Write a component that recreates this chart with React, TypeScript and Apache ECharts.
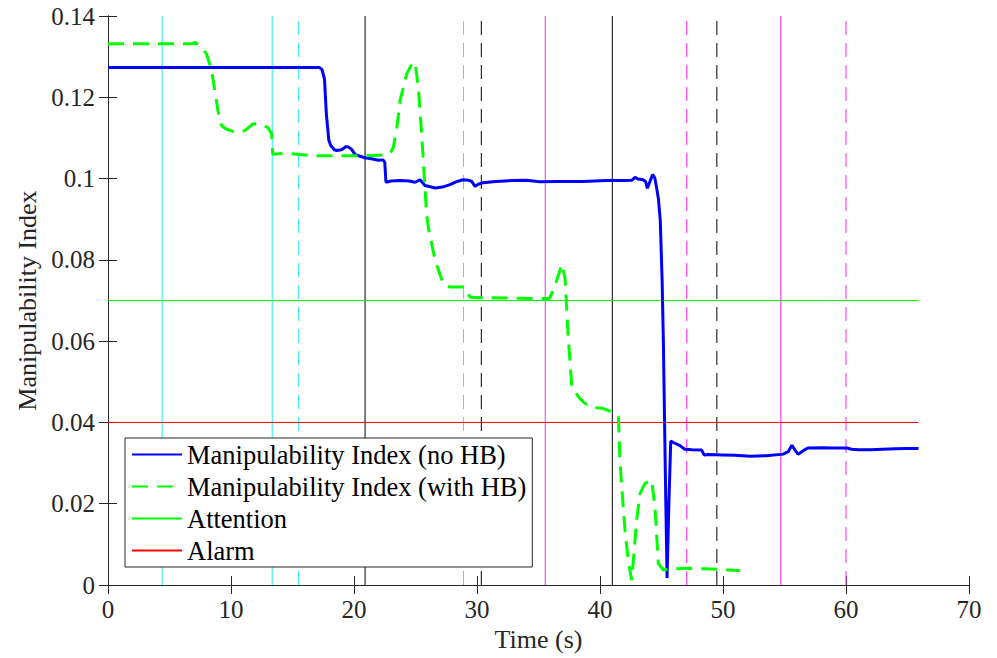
import React, { useEffect, useRef } from "react";
import * as echarts from "echarts";

// ---- Data ----
const noHbT = [0, 17.2, 17.4, 17.6, 17.75, 17.95, 18.1, 18.4, 18.6, 19.0, 19.3, 19.5, 19.8, 20.1, 20.5, 20.9, 21.5, 22.0, 22.36, 22.5, 22.6, 23.0, 23.74, 24.5, 24.96, 25.37, 25.77, 26.2, 26.6, 27.2, 27.8, 28.3, 28.86, 29.3, 29.57, 29.84, 30.1, 30.5, 31.5, 32.93, 34.0, 35.1, 36.5, 38.6, 40.5, 42.0, 42.6, 42.85, 43.1, 43.5, 43.7, 43.85, 44.0, 44.28, 44.45, 44.6, 44.75, 44.9, 45.05, 45.15, 45.3, 45.45, 45.6, 45.75, 46.0, 46.5, 46.9, 47.5, 48.27, 48.46, 48.8, 50.0, 51.0, 52.2, 53.5, 54.9, 55.3, 55.6, 55.85, 56.1, 56.5, 56.9, 58.0, 59.0, 60.06, 60.46, 61.0, 62.0, 63.0, 64.0, 65.0, 65.9];
const noHbV = [0.1273, 0.1273, 0.1268, 0.1245, 0.116, 0.1095, 0.1082, 0.1071, 0.1069, 0.1071, 0.1078, 0.1078, 0.1072, 0.1059, 0.1055, 0.1051, 0.1048, 0.1045, 0.1046, 0.1040, 0.0991, 0.0994, 0.0995, 0.0994, 0.0991, 0.0997, 0.0983, 0.0980, 0.0977, 0.0979, 0.0985, 0.0992, 0.0997, 0.0996, 0.0993, 0.0981, 0.0986, 0.0990, 0.0993, 0.0995, 0.0996, 0.0992, 0.0993, 0.0993, 0.0995, 0.0995, 0.0996, 0.1003, 0.0999, 0.0997, 0.0993, 0.0976, 0.0988, 0.1010, 0.1002, 0.0978, 0.0950, 0.0897, 0.0750, 0.0602, 0.0300, 0.0017, 0.0200, 0.0354, 0.0350, 0.0343, 0.0334, 0.0333, 0.0332, 0.0320, 0.0321, 0.0320, 0.0319, 0.0317, 0.0318, 0.0322, 0.0328, 0.0344, 0.0332, 0.0322, 0.0330, 0.0337, 0.0338, 0.0337, 0.0337, 0.0334, 0.0333, 0.0333, 0.0334, 0.0335, 0.0336, 0.0336];

const withHbT = [0, 6.9, 7.07, 7.5, 8.02, 8.43, 8.94, 9.24, 9.6, 10.16, 11.14, 11.8, 12.6, 13.0, 13.3, 13.39, 14.53, 16.7, 19.0, 21.03, 22.5, 22.93, 23.2, 23.5, 23.74, 24.28, 24.7, 24.96, 25.23, 25.5, 25.77, 25.9, 26.04, 26.6, 27.26, 27.8, 29.02, 29.43, 30.5, 32.5, 34.6, 35.9, 36.3, 36.9, 37.15, 37.4, 37.7, 38.2, 38.64, 39.2, 40.27, 40.95, 41.5, 41.63, 42.03, 42.3, 42.58, 42.98, 43.25, 43.66, 44.2, 44.47, 44.74, 45.15, 46.0, 47.3, 48.5, 49.5, 50.5, 51.4];
const withHbV = [0.1332, 0.1332, 0.1335, 0.1327, 0.1306, 0.1265, 0.1167, 0.1130, 0.1122, 0.1116, 0.1118, 0.1135, 0.1132, 0.1125, 0.1111, 0.1060, 0.1062, 0.1056, 0.1056, 0.1056, 0.1058, 0.1061, 0.1077, 0.1130, 0.1191, 0.1257, 0.1282, 0.1286, 0.1224, 0.1110, 0.0978, 0.0913, 0.0880, 0.0798, 0.0741, 0.0733, 0.0733, 0.0708, 0.0707, 0.0706, 0.0705, 0.0705, 0.0733, 0.0789, 0.0757, 0.0619, 0.0491, 0.0465, 0.0450, 0.0438, 0.0434, 0.0426, 0.0414, 0.0300, 0.0135, 0.0060, 0.0012, 0.0160, 0.0225, 0.0250, 0.0258, 0.0192, 0.0053, 0.0037, 0.0040, 0.0041, 0.0040, 0.0039, 0.0037, 0.0035];

const attentionLevel = 0.07;
const alarmLevel = 0.04;
const thresholdStart = 0;
const thresholdEnd = 65.9;

const cyanSolidT = [4.4, 13.35];
const cyanDashedT = [15.5, 28.9];
const blackSolidT = [20.9, 41.0];
const blackDashedT = [30.35, 49.5];
const magentaSolidT = [35.55, 54.7];
const magentaDashedT = [47.05, 60.0];

const xTicks = [0, 10, 20, 30, 40, 50, 60, 70];
const yTicks = [0, 0.02, 0.04, 0.06, 0.08, 0.1, 0.12, 0.14];

const seriesNames = [
  "Manipulability Index (no HB)",
  "Manipulability Index (with HB)",
  "Attention",
  "Alarm",
];

const FONT = "Liberation Serif";
const TEXT = "#262626";

export default function App() {
  const ref = useRef<HTMLDivElement>(null);

  useEffect(() => {
    document.body.style.margin = "0";
    if (!ref.current) return;
    const chart = echarts.init(ref.current, undefined, { renderer: "svg" });

    const vline = (t: number, color: string, dashed: boolean) => ({
      type: "line",
      data: [
        [t, yTicks[0]],
        [t, yTicks[yTicks.length - 1]],
      ],
      symbol: "none",
      silent: true,
      z: 1,
      lineStyle: { color, width: 1, type: dashed ? [14, 8] : "solid" },
    });

    const vlines: any[] = [
      ...cyanSolidT.map((t) => vline(t, "#22eeff", false)),
      ...cyanDashedT.map((t) => vline(t, "#22eeff", true)),
      ...blackSolidT.map((t) => vline(t, "#000000", false)),
      ...blackDashedT.map((t) => vline(t, "#000000", true)),
      ...magentaSolidT.map((t) => vline(t, "#ff22ff", false)),
      ...magentaDashedT.map((t) => vline(t, "#ff22ff", true)),
    ];

    const axisCommon = {
      axisLine: { show: true, lineStyle: { color: TEXT, width: 1 } },
      axisTick: { show: true, inside: true, length: 9, lineStyle: { color: TEXT } },
      splitLine: { show: false },
    };

    const fmt = (v: number) => String(+v.toFixed(2));

    chart.setOption({
      animation: false,
      backgroundColor: "#ffffff",
      textStyle: { fontFamily: FONT },
      grid: { left: 108, right: 28, top: 16, bottom: 73, containLabel: false },
      xAxis: [
        {
          type: "value",
          min: xTicks[0],
          max: xTicks[xTicks.length - 1],
          interval: 10,
          position: "bottom",
          ...axisCommon,
          axisLabel: { color: TEXT, fontSize: 25, fontFamily: FONT, margin: 12, formatter: fmt },
          name: "Time (s)",
          nameLocation: "middle",
          nameGap: 40,
          nameTextStyle: { color: TEXT, fontSize: 26, fontFamily: FONT },
        },
        {
          type: "value",
          min: xTicks[0],
          max: xTicks[xTicks.length - 1],
          interval: 10,
          position: "top",
          ...axisCommon,
          axisLabel: { show: false },
        },
      ],
      yAxis: [
        {
          type: "value",
          min: yTicks[0],
          max: yTicks[yTicks.length - 1],
          interval: 0.02,
          position: "left",
          ...axisCommon,
          axisLabel: { color: TEXT, fontSize: 25, fontFamily: FONT, margin: 13, formatter: fmt },
          name: "Manipulability Index",
          nameLocation: "middle",
          nameGap: 62,
          nameTextStyle: { color: TEXT, fontSize: 26, fontFamily: FONT },
        },
        {
          type: "value",
          min: yTicks[0],
          max: yTicks[yTicks.length - 1],
          interval: 0.02,
          position: "right",
          ...axisCommon,
          axisLabel: { show: false },
        },
      ],
      legend: {
        data: seriesNames,
        orient: "vertical",
        left: 125,
        top: 438,
        itemWidth: 50,
        itemHeight: 14,
        itemGap: 3,
        padding: [2, 6, 2, 6],
        backgroundColor: "#ffffff",
        borderColor: TEXT,
        borderWidth: 1,
        borderRadius: 0,
        itemStyle: { opacity: 0, color: "transparent", borderWidth: 0 },
        textStyle: { color: "#000000", fontSize: 26.5, fontFamily: FONT, lineHeight: 29 },
      },
      series: [
        ...vlines,
        {
          name: seriesNames[2],
          type: "line",
          data: [
            [thresholdStart, attentionLevel],
            [thresholdEnd, attentionLevel],
          ],
          symbol: "none",
          z: 2,
          lineStyle: { color: "#00ff00", width: 1 },
          itemStyle: { color: "#00ff00" },
        },
        {
          name: seriesNames[3],
          type: "line",
          data: [
            [thresholdStart, alarmLevel],
            [thresholdEnd, alarmLevel],
          ],
          symbol: "none",
          z: 2,
          lineStyle: { color: "#ff0000", width: 1 },
          itemStyle: { color: "#ff0000" },
        },
        {
          name: seriesNames[0],
          type: "line",
          data: noHbT.map((t, i) => [t, noHbV[i]]),
          symbol: "none",
          z: 3,
          lineStyle: { color: "#0000ff", width: 3 },
          itemStyle: { color: "#0000ff" },
        },
        {
          name: seriesNames[1],
          type: "line",
          data: withHbT.map((t, i) => [t, withHbV[i]]),
          symbol: "none",
          z: 3,
          lineStyle: { color: "#00ff00", width: 3, type: [16, 9] },
          itemStyle: { color: "#00ff00" },
        },
      ],
    });

    return () => chart.dispose();
  }, []);

  return <div ref={ref} style={{ width: 997, height: 658 }} />;
}
